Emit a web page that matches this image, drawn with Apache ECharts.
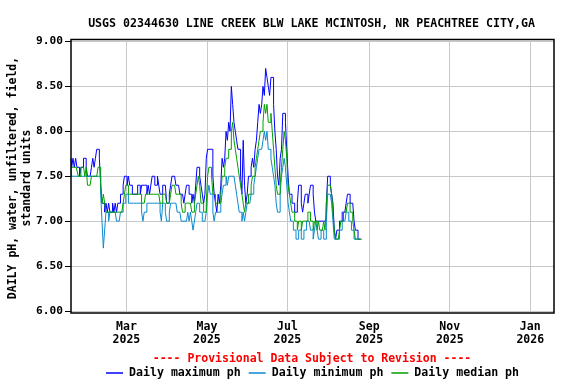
<!DOCTYPE html>
<html><head><meta charset="utf-8">
<script src="https://cdn.jsdelivr.net/npm/echarts@6/dist/echarts.min.js"></script>
<style>html,body{margin:0;padding:0;background:#fff}#c{width:576px;height:384px}</style>
</head><body><div id="c"></div>
<script>
const startDate = '2025-01-18';
const dayCount = 367; // 2025-01-18 .. 2026-01-19
const xTickDates = ['2025-03-01','2025-05-01','2025-07-01','2025-09-01','2025-11-01','2026-01-01'];
const xTickLabels = ['Mar\n2025','May\n2025','Jul\n2025','Sep\n2025','Nov\n2025','Jan\n2026'];
const yMin = 6.0, yMax = 9.0, yStep = 0.5;

const dailyMax = [
7.7,7.6,7.7,7.6,7.7,7.6,7.6,7.5,7.6,7.6,
7.7,7.7,7.6,7.5,7.5,7.5,7.6,7.7,7.6,7.7,
7.8,7.8,7.7,7.4,7.2,7.2,7.1,7.2,7.1,7.2,
7.1,7.1,7.2,7.1,7.2,7.1,7.2,7.2,7.3,7.3,
7.4,7.5,7.5,7.4,7.5,7.4,7.4,7.3,7.3,7.3,
7.3,7.4,7.4,7.3,7.4,7.4,7.4,7.4,7.3,7.4,
7.3,7.4,7.5,7.5,7.4,7.4,7.5,7.4,7.3,7.3,
7.4,7.4,7.4,7.2,7.2,7.3,7.4,7.5,7.5,7.5,
7.4,7.4,7.4,7.3,7.3,7.3,7.2,7.3,7.4,7.4,
7.3,7.3,7.2,7.3,7.2,7.4,7.6,7.6,7.5,7.4,
7.3,7.2,7.3,7.7,7.8,7.8,7.8,7.8,7.5,7.3,
7.2,7.1,7.3,7.2,7.4,7.7,7.6,7.7,8.0,7.9,
8.1,8.0,8.5,8.3,8.1,8.0,7.9,7.8,7.8,7.5,
7.3,7.9,7.4,7.2,7.3,7.5,7.5,7.6,7.7,7.6,
7.8,7.9,8.1,8.3,8.2,8.3,8.5,8.4,8.7,8.6,
8.5,8.4,8.6,8.6,8.3,8.0,7.8,7.5,7.4,7.7,
7.8,8.2,8.2,8.1,7.8,7.5,7.3,7.3,7.2,7.2,
7.1,7.1,7.2,7.4,7.4,7.2,7.1,7.2,7.3,7.3,
7.2,7.3,7.4,7.4,7.3,7.1,7.0,7.0,7.0,7.0,
7.0,7.0,7.0,7.0,7.2,7.5,7.5,7.4,7.3,7.2,
6.9,6.8,6.9,6.9,7.0,7.0,7.1,7.1,7.1,7.2,
7.3,7.3,7.2,7.2,7.2,7.0,6.9,6.9,6.8,6.8,6.8
];
const dailyMin = [
7.6,7.5,7.5,7.5,7.5,7.5,7.5,7.5,7.5,7.5,
7.5,7.5,7.5,7.5,7.5,7.5,7.5,7.5,7.5,7.5,
7.5,7.5,7.5,7.3,7.0,6.7,6.9,7.1,7.1,7.0,
7.1,7.1,7.1,7.1,7.1,7.0,7.0,7.0,7.1,7.1,
7.2,7.2,7.3,7.3,7.2,7.2,7.2,7.2,7.2,7.2,
7.2,7.2,7.2,7.2,7.1,7.0,7.1,7.1,7.2,7.2,
7.2,7.2,7.2,7.2,7.2,7.2,7.2,7.2,7.1,7.0,
7.2,7.2,7.1,7.0,7.0,7.1,7.2,7.2,7.2,7.2,
7.2,7.1,7.1,7.1,7.0,7.0,7.0,7.0,7.0,7.1,
7.0,7.1,7.0,6.9,7.0,7.1,7.2,7.2,7.1,7.1,
7.0,7.0,7.0,7.1,7.3,7.4,7.3,7.3,7.1,7.0,
7.1,7.1,7.1,7.1,7.2,7.3,7.4,7.4,7.5,7.4,
7.5,7.5,7.5,7.5,7.5,7.4,7.3,7.2,7.1,7.1,
7.0,7.1,7.0,7.1,7.2,7.2,7.2,7.3,7.3,7.4,
7.5,7.6,7.7,7.8,7.8,7.8,7.9,8.0,7.9,8.0,
7.8,7.8,7.7,7.6,7.5,7.4,7.2,7.1,7.1,7.3,
7.5,7.6,7.7,7.6,7.4,7.2,7.1,7.0,7.0,6.9,
6.9,6.8,6.8,6.9,6.9,6.8,6.8,6.9,6.9,7.0,
7.0,7.0,6.9,6.9,6.8,6.9,7.0,6.9,6.8,6.8,
6.9,6.9,6.8,6.8,7.0,7.3,7.3,7.3,7.2,7.0,
6.8,6.8,6.8,6.8,6.9,6.9,7.0,7.0,7.0,7.1,
7.1,7.0,7.0,6.9,6.9,6.8,6.8,6.8,6.8,6.8
];
const dailyMedian = [
7.6,7.6,7.6,7.6,7.6,7.6,7.5,7.5,7.6,7.6,
7.6,7.5,7.6,7.4,7.4,7.4,7.5,7.5,7.5,7.5,
7.5,7.6,7.6,7.4,7.2,7.3,7.2,7.1,7.1,7.1,
7.1,7.1,7.1,7.1,7.1,7.1,7.1,7.1,7.1,7.1,
7.2,7.3,7.4,7.4,7.3,7.3,7.3,7.3,7.3,7.3,
7.3,7.3,7.3,7.3,7.2,7.2,7.2,7.3,7.3,7.3,
7.3,7.3,7.3,7.3,7.3,7.3,7.3,7.3,7.2,7.2,
7.3,7.3,7.3,7.2,7.2,7.2,7.3,7.4,7.4,7.4,
7.3,7.3,7.3,7.3,7.2,7.1,7.1,7.2,7.2,7.2,
7.2,7.2,7.1,7.1,7.2,7.3,7.4,7.5,7.4,7.2,
7.2,7.1,7.1,7.2,7.5,7.6,7.6,7.5,7.3,7.3,
7.2,7.2,7.2,7.2,7.3,7.5,7.5,7.6,7.7,7.7,
7.8,7.8,8.0,8.1,7.9,7.8,7.7,7.6,7.5,7.4,
7.3,7.2,7.1,7.2,7.2,7.3,7.3,7.4,7.5,7.5,
7.6,7.7,7.8,7.9,8.0,8.0,8.1,8.3,8.2,8.3,
8.1,8.1,8.2,8.0,7.8,7.6,7.4,7.3,7.3,7.4,
7.6,7.8,8.0,7.9,7.7,7.4,7.3,7.2,7.1,7.1,
7.0,7.0,6.9,7.0,7.0,6.9,7.0,7.0,7.0,7.0,
7.1,7.1,7.0,7.0,6.9,7.0,7.0,6.9,7.0,6.9,
6.9,6.9,7.0,6.9,7.2,7.4,7.4,7.4,7.3,7.1,
6.9,6.8,6.8,6.8,6.9,7.0,7.0,7.1,7.1,7.1,
7.2,7.2,7.1,7.1,7.0,6.9,6.8,6.8,6.8,6.8,6.8,6.8
];

const seriesNames = ['Daily maximum ph','Daily minimum ph','Daily median ph'];
const seriesColors = ['#0000ff','#0a8ad0','#00a000'];

// category dates
const categories = [];
(function(){
  const p = startDate.split('-').map(Number);
  const t0 = Date.UTC(p[0], p[1]-1, p[2]);
  for (let i = 0; i < dayCount; i++) {
    const d = new Date(t0 + i*86400000);
    const s = d.getUTCFullYear() + '-' + String(d.getUTCMonth()+1).padStart(2,'0') + '-' + String(d.getUTCDate()).padStart(2,'0');
    categories.push(s);
  }
})();
const isTick = (idx, val) => xTickDates.indexOf(val) >= 0;

const FONT = '"DejaVu Sans Mono", "Liberation Mono", monospace';
const chart = echarts.init(document.getElementById('c'), null, {renderer:'canvas'});
chart.setOption({
  animation: false,
  backgroundColor: '#ffffff',
  title: {
    text: 'USGS 02344630 LINE CREEK BLW LAKE MCINTOSH, NR PEACHTREE CITY,GA',
    left: 306.5, top: 13, textAlign: 'center',
    textStyle: {fontFamily: FONT, fontWeight: 'bold', fontSize: 11.6, color: '#000'}
  },
  grid: {left: 71, right: 22, top: 41.5, bottom: 73, containLabel: false},
  xAxis: {
    type: 'category', data: categories, boundaryGap: false,
    axisLine: {show: false}, axisTick: {show: false},
    axisLabel: {
      interval: isTick, margin: 10,
      formatter: (v) => xTickLabels[xTickDates.indexOf(v)] || '',
      fontFamily: FONT, fontWeight: 'bold', fontSize: 11.5, color: '#000', lineHeight: 13
    },
    splitLine: {show: true, interval: isTick, lineStyle: {color: '#c8c8c8', width: 1}}
  },
  yAxis: {
    type: 'value', min: yMin, max: yMax, interval: yStep,
    axisLine: {show: false},
    axisTick: {show: true, length: 6, lineStyle: {color: '#000', width: 1}},
    axisLabel: {
      formatter: (v) => v.toFixed(2), margin: 8,
      fontFamily: FONT, fontWeight: 'bold', fontSize: 11.2, color: '#000'
    },
    splitLine: {show: true, lineStyle: {color: '#c8c8c8', width: 1}}
  },
  legend: {
    data: seriesNames, left: 101, top: 362, itemWidth: 17, itemHeight: 1.5, itemGap: 8,
    icon: 'rect',
    textStyle: {fontFamily: FONT, fontWeight: 'bold', fontSize: 11.6, color: '#000', padding: [0,0,0,1]}
  },
  graphic: [
    {type: 'rect', silent: true, z: 100,
     shape: {x: 71, y: 39.5, width: 483, height: 273.5},
     style: {fill: null, stroke: '#000', lineWidth: 1.5}},
    {type: 'text', silent: true, x: 20, y: 178, rotation: Math.PI/2,
     style: {text: 'DAILY pH, water, unfiltered, field,\nstandard units',
       textAlign: 'center', textVerticalAlign: 'middle', align: 'center', verticalAlign: 'middle',
       font: 'bold 11.5px ' + FONT, fill: '#000', lineHeight: 14}},
    {type: 'text', silent: true, x: 312, y: 359,
     style: {text: '---- Provisional Data Subject to Revision ----',
       textAlign: 'center', textVerticalAlign: 'middle', align: 'center', verticalAlign: 'middle',
       font: 'bold 11.5px ' + FONT, fill: '#ff0000'}}
  ],
  series: [
    {name: seriesNames[0], type: 'line', step: 'middle', data: dailyMax, symbol: 'none', color: seriesColors[0], lineStyle: {width: 1, color: seriesColors[0]}},
    {name: seriesNames[1], type: 'line', step: 'middle', data: dailyMin, symbol: 'none', color: seriesColors[1], lineStyle: {width: 1, color: seriesColors[1]}},
    {name: seriesNames[2], type: 'line', step: 'middle', data: dailyMedian, symbol: 'none', color: seriesColors[2], lineStyle: {width: 1, color: seriesColors[2]}}
  ]
});
</script>
</body></html>
